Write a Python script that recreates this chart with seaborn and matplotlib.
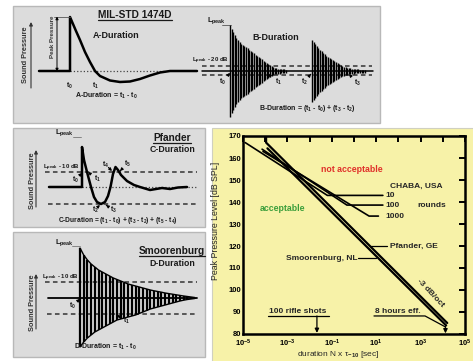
import numpy as np
import pandas as pd
import seaborn as sns
import matplotlib
matplotlib.use('Agg')
from matplotlib import pyplot as plt
from matplotlib.patches import Rectangle

sns.set_style('white')
plt.rcParams['font.family'] = ['Liberation Sans', 'DejaVu Sans']
plt.rcParams['font.weight'] = 'bold'
plt.rcParams['mathtext.fontset'] = 'custom'
plt.rcParams['mathtext.rm'] = 'Liberation Sans:bold'
plt.rcParams['mathtext.bf'] = 'Liberation Sans:bold'
plt.rcParams['mathtext.it'] = 'Liberation Sans:bold:italic'
plt.rcParams['mathtext.sf'] = 'Liberation Sans:bold'
plt.rcParams['mathtext.default'] = 'rm'

# RIGHT PANEL: PEAK LEVEL LIMITS VS DURATION

chaba_rounds = ['10', '100', '1000']
chaba_start_x = [10**-4.9, 10**-4.14, 10**-4.1]
chaba_start_y = [167.0, 164.0, 163.0]
chaba_end_x = [10**-1.2, 10**-0.32, 10**0.68]
chaba_end_y = [143.0, 138.6, 133.6]
chaba_leader_x = [10**1.3, 10**1.3, 10**1.1]

pfander_x = [10**-3.96, 10**-3.96, 10**4.2]
pfander_y = [170.0, 167.0, 85.0]
smoor_x = [10**-3.9, 10**4.15]
smoor_y = [164.4, 83.9]

x_decades = list(range(-5, 6))
y_levels = list(range(80, 171, 10))

# SCHEMATIC WAVEFORMS (time after onset, pressure above baseline)

a_t = [-31, 0, 0, 3, 6, 10, 15, 20, 25, 30, 40, 50, 60, 70, 80, 90, 100, 127]
a_p = [0, 0, 54, 47, 40, 31, 19, 9, 0, -5, -9.5, -11, -10.5, -8, -4.5, -1.5, 0, 0]

c_t = [-33, 0, 0, 2, 5, 9, 12, 15, 19, 23, 26, 28.5, 31, 33.5, 36, 39, 45, 52, 58, 68, 80, 88, 96, 105]
c_p = [0, 0, 40, 27, 15, 0, -10, -15, -17, -15, -9, 0, 13, 20, 17, 12, 6, 2, 0, -3, -1, -2, -0.5, 0]

b1_amp = [46, 42, 39, 36, 33, 31, 29, 27, 26, 25, 24, 23, 21, 20, 19, 18, 16, 15,
          14, 13, 12, 10, 9, 8, 7, 6, 5, 4, 3, 3, 2.5, 2.5, 2, 2, 2, 1.5]
b2_amp = [31, 29, 27, 25, 23, 21, 20, 18, 17, 15, 14, 13, 12, 11, 10, 9, 8, 7,
          6, 5, 4.5, 4, 3.5, 3, 3, 2.5, 2.5, 2, 2, 2, 1.5, 1.5, 1.5, 1.5]

d_up = [50, 43, 38, 34, 31, 28, 26, 24, 22, 20, 18.5, 17, 15.5, 14, 13, 12, 11, 10,
        9, 8, 7.2, 6.5, 5.8, 5, 4.4, 3.8, 3.2, 2.6, 2, 1.5, 1, 0.5]
d_lo = [49, 44, 40, 37, 34, 32, 30, 28, 26, 24, 22, 21, 20, 19, 18, 17, 15.5, 14,
        12.5, 11, 10, 9, 8, 7, 6, 5, 4, 3, 2.2, 1.5, 1, 0.5]

W, H = 473, 361
fig = plt.figure(figsize=(W / 100, H / 100), dpi=100)
art = fig.add_axes([0, 0, 1, 1])
art.set_xlim(0, W)
art.set_ylim(H, 0)
art.axis('off')

GRAY = '#dcdcdc'
YELLOW = '#f7f2a8'
INK = '#1a1a1a'

for x0, y0, x1, y1 in [(13, 6, 380, 123), (13, 128, 205, 227), (13, 232, 205, 357)]:
    art.add_patch(Rectangle((x0, y0), x1 - x0, y1 - y0, facecolor=GRAY, edgecolor='#b8b8b8', lw=1))
art.add_patch(Rectangle((212, 128), 262, 234, facecolor=YELLOW, edgecolor='#d0d0c0', lw=0.8))

underlined = []


def wave(t, p, x0, y0, lw=1.8):
    sns.lineplot(x=np.asarray(t, float) + x0, y=y0 - np.asarray(p, float), ax=art,
                 color='k', lw=lw, estimator=None, sort=False)


def burst(up, lo, x0, y0, step, lw):
    xs = x0 + step * np.arange(len(up))
    art.vlines(xs, y0 - np.asarray(up, float), y0 + np.asarray(lo, float), color='k', lw=lw)
    return xs


def dashed(x0, x1, y, ls='--'):
    if ls == ':':
        art.plot([x0, x1], [y, y], color='#444444', lw=0.9, ls=':')
    else:
        art.plot([x0, x1], [y, y], color='#333333', lw=1.1, dashes=(3, 2.2))


def tmark(label, xytext, xy):
    art.annotate(label, xy=xy, xytext=xytext, fontsize=5, ha='center', va='center', color=INK,
                 arrowprops=dict(arrowstyle='-|>', color='k', lw=0.8, mutation_scale=4,
                                 shrinkA=2.5, shrinkB=0))


def sound_pressure(xt, yc, xa, ybot, ytop):
    art.text(xt, yc, 'Sound Pressure', rotation=90, fontsize=5.3, ha='center', va='center', color='#333333')
    art.annotate('', xy=(xa, ytop), xytext=(xa, ybot),
                 arrowprops=dict(arrowstyle='-|>', color='#333333', lw=0.8, mutation_scale=5,
                                 shrinkA=0, shrinkB=0))


def title(txt, x, y, fs, uline):
    t = art.text(x, y, txt, fontsize=fs, ha='center', va='baseline', color=INK)
    underlined.append((t, uline))


# A-DURATION
title('MIL-STD 1474D', 135, 18.5, 7.3, 20.3)
sound_pressure(25, 55, 31, 88, 22)
dashed(70, 165, 71, ':')
wave(a_t, a_p, 70, 71)
art.annotate('', xy=(57, 16.5), xytext=(57, 71.5),
             arrowprops=dict(arrowstyle='<|-|>', color='k', lw=0.7, mutation_scale=4, shrinkA=0, shrinkB=0))
art.plot([54, 70], [16.5, 16.5], color='#555555', lw=0.6)
art.text(52, 37, 'Peak Pressure', rotation=90, fontsize=4.4, ha='center', va='center', color='#333333')
art.text(93, 36, 'A-Duration', fontsize=6.5, ha='left', va='center', color=INK)
art.text(69, 85.5, 't$_0$', fontsize=5, ha='center', va='center', color=INK)
art.text(95, 85.5, 't$_1$', fontsize=5, ha='center', va='center', color=INK)
art.text(106, 96, 'A-Duration = t$_1$ - t$_0$', fontsize=5, ha='center', va='center', color=INK)

# B-DURATION
art.text(207, 21, 'L$_{peak}$', fontsize=5.5, ha='left', va='center', color=INK)
art.plot([222, 231], [25, 25], color='#555555', lw=0.6)
art.text(192, 61, 'L$_{peak}$ - 20 dB', fontsize=4.3, ha='left', va='center', color=INK)
art.plot([202, 373], [71, 71], color='k', lw=1.1)
dashed(202, 372, 66)
dashed(202, 372, 75)
burst(b1_amp, b1_amp, 230, 71, 1.6, 1.0)
burst(b2_amp, b2_amp, 312, 71, 1.6, 1.0)
art.text(252, 37, 'B-Duration', fontsize=6.5, ha='left', va='center', color=INK)
tmark('t$_0$', (222, 82), (230, 73))
tmark('t$_1$', (278, 82), (268, 74))
tmark('t$_2$', (304, 82), (311, 74))
tmark('t$_3$', (357, 83), (349, 74))
art.text(307, 109, 'B-Duration = (t$_1$ - t$_0$) + (t$_3$ - t$_2$)', fontsize=5, ha='center', va='center', color=INK)

# C-DURATION (PFANDER)
art.text(55, 133, 'L$_{peak}$', fontsize=5.5, ha='left', va='center', color=INK)
art.plot([73, 81], [137, 137], color='#777777', lw=0.6)
title('Pfander', 172, 141, 7.3, 142.8)
art.text(172, 149, 'C-Duration', fontsize=6.3, ha='center', va='center', color=INK)
sound_pressure(32, 181, 36, 207, 150)
art.text(43, 168, 'L$_{peak}$ - 10 dB', fontsize=4.3, ha='left', va='center', color=INK)
dashed(45, 197, 172)
dashed(48, 197, 204)
dashed(82, 197, 187, ':')
wave(c_t, c_p, 82, 187)
tmark('t$_0$', (75, 180), (82, 173))
tmark('t$_1$', (97, 179), (88, 172))
tmark('t$_2$', (95, 209.5), (100, 205))
tmark('t$_3$', (113, 210), (106, 205))
tmark('t$_4$', (106, 165), (112, 171))
tmark('t$_5$', (127, 164), (120, 171))
art.text(118, 220, 'C-Duration = (t$_1$ - t$_0$) + (t$_3$ - t$_2$) + (t$_5$ - t$_4$)', fontsize=4.8,
         ha='center', va='center', color=INK)

# D-DURATION (SMOORENBURG)
art.text(55, 243, 'L$_{peak}$', fontsize=5.5, ha='left', va='center', color=INK)
art.plot([72, 80], [246, 246], color='#777777', lw=0.6)
title('Smoorenburg', 172, 254, 7.3, 256)
art.text(172, 263, 'D-Duration', fontsize=6.3, ha='center', va='center', color=INK)
sound_pressure(32, 303, 36, 329, 274)
art.text(42, 278, 'L$_{peak}$ - 10 dB', fontsize=4.3, ha='left', va='center', color=INK)
dashed(45, 197, 282)
dashed(47, 197, 314)
art.plot([48, 197], [298, 298], color='k', lw=1.3)
xs = burst(d_up, d_lo, 80, 298, 3.7, 1.6)
art.plot(xs, 298 - np.asarray(d_up), color='k', lw=1)
art.plot(xs, 298 + np.asarray(d_lo), color='k', lw=1)
tmark('t$_0$', (72, 306), (80, 299))
tmark('t$_1$', (126, 321), (117, 315))
art.text(105, 347, 'D-Duration = t$_1$ - t$_0$', fontsize=5, ha='center', va='center', color=INK)

# CRITERIA CHART
ax = fig.add_axes([243 / W, 1 - 334 / H, (465 - 243) / W, (334 - 136) / H])
ax.set_facecolor(YELLOW)
ax.set_xscale('log')

crit = pd.concat(
    [pd.DataFrame({'x': [chaba_start_x[i], chaba_end_x[i], chaba_leader_x[i]],
                   'y': [chaba_start_y[i], chaba_end_y[i], chaba_end_y[i]],
                   'rule': 'CHABA ' + r}) for i, r in enumerate(chaba_rounds)]
    + [pd.DataFrame({'x': pfander_x, 'y': pfander_y, 'rule': 'Pfander'}),
       pd.DataFrame({'x': smoor_x, 'y': smoor_y, 'rule': 'Smoorenburg'})],
    ignore_index=True)

chaba = crit[crit['rule'].str.startswith('CHABA')]
steep = crit[~crit['rule'].str.startswith('CHABA')]
sns.lineplot(data=chaba, x='x', y='y', units='rule', estimator=None, sort=False, color='k', lw=1.2, ax=ax)
sns.lineplot(data=steep, x='x', y='y', units='rule', estimator=None, sort=False, color='k', lw=1.6, ax=ax)

ax.set_xlim(1e-5, 1e5)
ax.set_ylim(80, 170)
ax.set_xticks([10.0**k for k in x_decades])
ax.set_xticklabels(['$10^{%d}$' % k if k % 2 else '' for k in x_decades])
ax.xaxis.set_minor_locator(matplotlib.ticker.NullLocator())
ax.set_yticks(y_levels)
ax.tick_params(direction='in', top=True, right=True, length=4, width=1.4, labelsize=5.5,
               pad=1.5, colors='k')
ax.tick_params(axis='x', pad=3)
for s in ax.spines.values():
    s.set_linewidth(1.8)
    s.set_color('k')
ax.set_xlabel('duration N x τ$_{-10}$ [sec]', fontsize=6)
ax.set_ylabel('Peak Pressure Level [dB SPL]', fontsize=6.3)
ax.xaxis.set_label_coords((338 - 243) / 222, -0.078)
ax.yaxis.set_label_coords(-0.105, 0.57)

ax.text(10**-0.09, 155, 'not acceptable', color='#e0302a', fontsize=6.3, ha='center', va='center')
ax.text(10**-3.24, 137, 'acceptable', color='#3a9e3a', fontsize=6.3, ha='center', va='center')
ax.text(10**1.62, 147, 'CHABA, USA', fontsize=6, ha='left', va='center')
for r, yv in zip(chaba_rounds, chaba_end_y):
    ax.text(10**1.42, yv, r, fontsize=6, ha='left', va='center')
ax.text(10**2.84, 138.6, 'rounds', fontsize=6, ha='left', va='center')
ax.plot([10**0.75, 10**1.5], [120, 120], color='k', lw=0.9)
ax.text(10**1.62, 120, 'Pfander, GE', fontsize=6, ha='left', va='center')
ax.plot([10**0.2, 10**1.0], [114.5, 114.5], color='k', lw=0.9)
ax.text(10**0.14, 114.5, 'Smoorenburg, NL', fontsize=6, ha='right', va='center')
ax.text(10**3.42, 98.5, '-3 dB/oct', fontsize=6, rotation=-47, ha='center', va='center')

ax.text(10**-3.83, 88.8, '100 rifle shots', fontsize=6, ha='left', va='bottom')
ax.plot([10**-3.87, 10**-1.12], [88.2, 88.2], color='k', lw=0.9)
ax.annotate('', xy=(10**-1.67, 80.5), xytext=(10**-1.67, 88.2),
            arrowprops=dict(arrowstyle='-|>', color='k', lw=0.9, mutation_scale=6, shrinkA=0, shrinkB=0))
ax.text(10**0.95, 88.8, '8 hours eff.', fontsize=6, ha='left', va='bottom')
ax.plot([10**0.9, 10**3.2, 10**4.12], [88.2, 88.2, 83.2], color='k', lw=0.9)
ax.annotate('', xy=(10**4.12, 80.3), xytext=(10**4.12, 83.4),
            arrowprops=dict(arrowstyle='-|>', color='k', lw=0.9, mutation_scale=6, shrinkA=0, shrinkB=0))

# UNDERLINED TITLES
fig.canvas.draw()
inv = art.transData.inverted()
for t, yy in underlined:
    bb = t.get_window_extent()
    xa = inv.transform((bb.x0, bb.y0))[0]
    xb = inv.transform((bb.x1, bb.y0))[0]
    art.plot([xa, xb], [yy, yy], color=INK, lw=0.9)

fig.savefig('out.png', dpi=100)
